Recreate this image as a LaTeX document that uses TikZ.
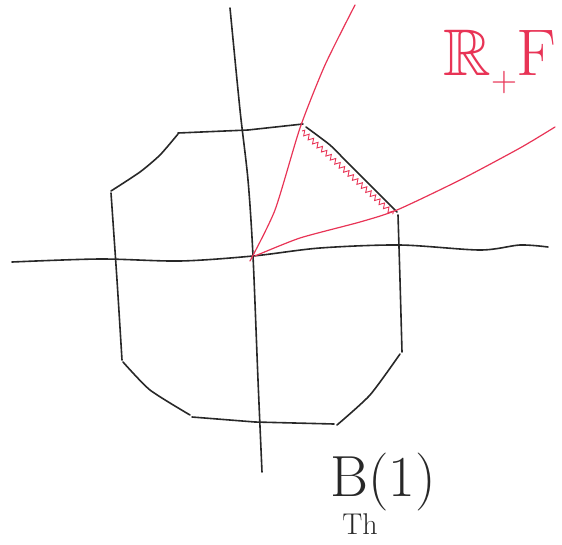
\documentclass[tikz,border=0pt]{standalone}
\usepackage{amssymb}
\usetikzlibrary{decorations.pathmorphing}
\definecolor{pen}{RGB}{40,40,40}
\definecolor{redpen}{RGB}{232,52,86}
\tikzset{
  ink/.style={draw=pen, line width=1.6pt, line cap=round, line join=round},
  redink/.style={draw=redpen, line width=1.2pt, line cap=round, line join=round},
  hatch/.style={draw=redpen, line width=0.9pt, decorate, decoration={zigzag, segment length=6pt, amplitude=2.5pt}}
}
\begin{document}
\begin{tikzpicture}[x=1pt,y=-1pt]
\useasboundingbox (0,0) rectangle (562,544);
% axes
\draw[ink] plot[smooth, tension=0.5] coordinates {(12,262) (100,259) (180,261) (253,256) (320,248) (400,245) (480,250) (520,245) (548,247)};
\draw[ink] plot[smooth, tension=0.5] coordinates {(230,8) (240,110) (248,180) (253,256) (258,380) (262,472)};
% octagon
\draw[ink] (178,133) -- (248,130) -- (303,124);
\draw[ink] plot[smooth, tension=0.4] coordinates {(306,127) (330,145) (345,160) (370,185) (397,212)};
\draw[ink] plot[smooth, tension=0.4] coordinates {(398,215) (400,280) (402,352)};
\draw[ink] plot[smooth, tension=0.4] coordinates {(400,354) (370,395) (337,425)};
\draw[ink] (334,424) -- (255,422) -- (192,417);
\draw[ink] plot[smooth, tension=0.4] coordinates {(190,415) (150,390) (123,362)};
\draw[ink] plot[smooth, tension=0.4] coordinates {(122,360) (117,280) (111,193)};
\draw[ink] plot[smooth, tension=0.4] coordinates {(111,191) (140,172) (160,155) (178,134)};
% hatching along the cut edge (inner side)
\draw[hatch] (302,131) -- (393,214);
% red rays
\draw[redink] plot[smooth, tension=0.4] coordinates {(250,261) (275,210) (300,128) (325,65) (355,5)};
\draw[redink] plot[smooth, tension=0.4] coordinates {(255,256) (300,238) (360,222) (397,210) (460,180) (520,148) (555,127)};
% labels
\node[text=redpen, font=\fontsize{66}{66}\selectfont, inner sep=0pt] (rf) at (500,62) {$\mathbb{R}$\raisebox{-0.25em}{\fontsize{36}{36}\selectfont +}F};
\node[text=pen, font=\fontsize{58}{58}\selectfont, inner sep=0pt] (b1) at (383,482) {B(1)};
\node[text=pen, font=\fontsize{30}{30}\selectfont, inner sep=0pt] (th) at (360,524) {Th};
\end{tikzpicture}
\end{document}
